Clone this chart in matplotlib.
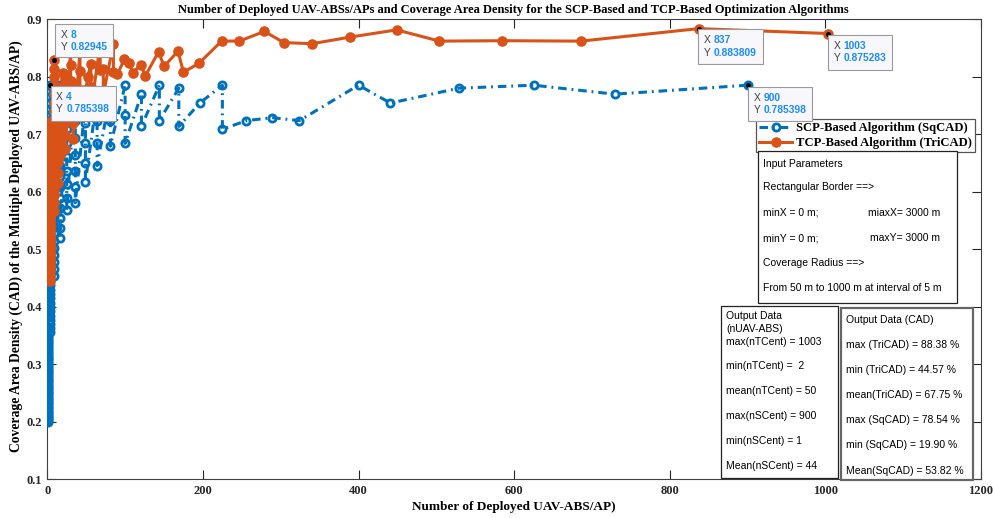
import matplotlib
matplotlib.use("Agg")
import matplotlib.pyplot as plt
from matplotlib.patches import Rectangle

# ---------------- data (radius 50 m .. 1000 m, step 5 m) ----------------
sq_n = [900, 729, 625, 529, 441, 400, 324, 289, 256, 225, 225, 196, 169, 169, 144, 144,
        121, 121, 100, 100, 100, 81, 81, 81,
        64, 64, 64, 64,
        49, 49, 49, 49, 49,
        36, 36, 36, 36, 36, 36, 36, 36,
        25, 25, 25, 25, 25, 25, 25, 25, 25, 25,
        16, 16, 16, 16, 16, 16, 16, 16, 16, 16, 16, 16, 16, 16, 16,
        9, 9, 9, 9, 9, 9, 9, 9, 9, 9, 9, 9, 9, 9, 9, 9, 9, 9, 9, 9, 9, 9, 9, 9, 9,
        4, 4, 4, 4, 4, 4, 4, 4, 4, 4, 4, 4, 4, 4, 4, 4, 4, 4, 4, 4, 4, 4, 4, 4, 4,
        4, 4, 4, 4, 4, 4, 4, 4, 4, 4, 4, 4, 4, 4, 4, 4, 4, 4, 4, 4, 4, 4, 4, 4, 4,
        1, 1, 1, 1, 1, 1, 1, 1, 1, 1, 1, 1, 1, 1, 1, 1, 1, 1, 1, 1, 1, 1, 1, 1, 1,
        1, 1, 1, 1, 1, 1, 1, 1, 1, 1, 1, 1, 1, 1, 1, 1, 1, 1, 1, 1, 1, 1, 1, 1, 1]

sq_cad = [0.7854, 0.7698, 0.7854, 0.7802, 0.7543, 0.7854, 0.7238, 0.7289, 0.7238, 0.7088,
          0.7854, 0.7543, 0.7138, 0.7802, 0.7238, 0.7854, 0.7138, 0.7698, 0.6842, 0.7339,
          0.7854, 0.6793, 0.7238, 0.7698, 0.6456, 0.6842, 0.7238, 0.7646, 0.6175, 0.6504,
          0.6842, 0.7188, 0.7543, 0.5809, 0.6082, 0.6362, 0.6648, 0.6940, 0.7238, 0.7543,
          0.7854,
          0.5675, 0.5899, 0.6128, 0.6362, 0.6600, 0.6842, 0.7088, 0.7339, 0.7594, 0.7854,
          0.5195, 0.5367, 0.5542, 0.5719, 0.5899, 0.6082, 0.6268, 0.6456, 0.6648, 0.6842,
          0.7039, 0.7238, 0.7441, 0.7646, 0.7854,
          0.4536, 0.4657, 0.4778, 0.4902, 0.5027, 0.5153, 0.5281, 0.5411, 0.5542, 0.5675,
          0.5809, 0.5945, 0.6082, 0.6221, 0.6362, 0.6504, 0.6648, 0.6793, 0.6940, 0.7088,
          0.7238, 0.7390, 0.7543, 0.7698, 0.7854,
          0.35608, 0.36317, 0.37032, 0.37755, 0.38484, 0.39221, 0.39964, 0.40715, 0.41472, 0.42237,
          0.43008, 0.43787, 0.44572, 0.45365, 0.46164, 0.46970, 0.47784, 0.48604, 0.49431, 0.50265,
          0.51106, 0.51955, 0.52810, 0.53672, 0.54542, 0.55418, 0.56301, 0.57191, 0.58088, 0.58992,
          0.59903, 0.60821, 0.61746, 0.62678, 0.63617, 0.64563, 0.65516, 0.66476, 0.67443, 0.68417,
          0.69398, 0.70385, 0.71380, 0.72382, 0.73391, 0.74407, 0.75429, 0.76459, 0.77495, 0.78540,
          0.19898, 0.20162, 0.20428, 0.20696, 0.20966, 0.21237, 0.21510, 0.21785, 0.22062, 0.22340,
          0.22620, 0.22902, 0.23186, 0.23471, 0.23758, 0.24047, 0.24338, 0.24630, 0.24924, 0.25220,
          0.25518, 0.25817, 0.26118, 0.26421, 0.26726, 0.27032, 0.27340, 0.27650, 0.27961, 0.28274,
          0.28589, 0.28906, 0.29225, 0.29545, 0.29867, 0.30191, 0.30516, 0.30843, 0.31172, 0.31503,
          0.31836, 0.32170, 0.32506, 0.32844, 0.33183, 0.33524, 0.33867, 0.34212, 0.34558, 0.34907]

tri_n = [1003, 837, 686, 585, 504, 449, 389, 340, 304, 279,
         247, 224, 195, 175, 168, 150, 143, 126, 120, 110,
         105, 99, 90, 85, 85, 72, 72, 68, 68, 56,
         56, 56, 52, 46, 46, 42, 42, 42, 42, 33,
         33, 33, 33, 30, 30, 30, 30, 30, 23, 23,
         23, 23, 23, 23, 20, 20, 20, 20, 20, 16,
         16,
         14, 14, 14, 14, 14, 14, 14, 14, 14, 14,
         12, 12, 12, 12,
         9, 9, 9, 9, 9, 9, 9, 9,
         8, 8, 8, 8, 8, 8, 8, 8, 8, 8, 8, 8, 8, 8, 8, 8, 8,
         6, 6, 6,
         4, 4, 4, 4, 4, 4, 4, 4, 4, 4, 4, 4, 4, 4, 4, 4, 4, 4, 4, 4, 4,
         3, 3, 3, 3, 3, 3, 3, 3, 3, 3, 3, 3, 3, 3, 3, 3, 3, 3, 3, 3, 3, 3, 3, 3, 3, 3, 3, 3, 3, 3, 3, 3, 3,
         2, 2, 2, 2, 2, 2, 2, 2, 2, 2, 2, 2, 2, 2, 2, 2, 2, 2, 2, 2, 2, 2, 2, 2, 2, 2, 2, 2, 2, 2, 2, 2, 2, 2]

tri_cad = [0.87528, 0.88381, 0.86205, 0.86276, 0.86205, 0.88161, 0.86903, 0.85748, 0.85954, 0.87894,
           0.86219, 0.86205, 0.82362, 0.80787, 0.84446, 0.81812, 0.84359, 0.80158, 0.82100, 0.80730,
           0.82467, 0.83024, 0.80425, 0.80778, 0.85748, 0.76969, 0.81430, 0.81238, 0.85689, 0.74330,
           0.78191, 0.82149, 0.80048, 0.74224, 0.77716, 0.74220, 0.77555, 0.80964, 0.84446, 0.69144,
           0.71995, 0.74904, 0.77870, 0.73539, 0.76341, 0.79195, 0.82100, 0.85059, 0.67520, 0.69868,
           0.72257, 0.74685, 0.77154, 0.79663, 0.71489, 0.73740, 0.76027, 0.78348, 0.80704, 0.66477,
           0.68417,
           0.61587, 0.63335, 0.65106, 0.66902, 0.68722, 0.70567, 0.72436, 0.74330, 0.76248, 0.78191,
           0.68707, 0.70414, 0.72142, 0.73890,
           0.56745, 0.58088, 0.59447, 0.60821, 0.62211, 0.63617, 0.65039, 0.66476,
           0.60382, 0.61687, 0.63006, 0.64340, 0.65687, 0.67049, 0.68424, 0.69813, 0.71217, 0.72634,
           0.74065, 0.75510, 0.76969, 0.78442, 0.79929, 0.81430, 0.82945,
           0.63356, 0.64513, 0.65680,
           0.44572, 0.45365, 0.46164, 0.46970, 0.47784, 0.48604, 0.49431, 0.50265, 0.51106, 0.51955,
           0.52810, 0.53672, 0.54542, 0.55418, 0.56301, 0.57191, 0.58088, 0.58992, 0.59903, 0.60821,
           0.61746,
           0.47009, 0.47713, 0.48423, 0.49137, 0.49857, 0.50582, 0.51313, 0.52048, 0.52789, 0.53535,
           0.54287, 0.55043, 0.55805, 0.56572, 0.57344, 0.58122, 0.58905, 0.59693, 0.60486, 0.61285,
           0.62088, 0.62897, 0.63712, 0.64531, 0.65356, 0.66185, 0.67021, 0.67861, 0.68707, 0.69558,
           0.70414, 0.71275, 0.72142,
           0.48676, 0.49260, 0.49848, 0.50440, 0.51035, 0.51634, 0.52236, 0.52841, 0.53451, 0.54063,
           0.54680, 0.55299, 0.55922, 0.56549, 0.57179, 0.57812, 0.58449, 0.59090, 0.59734, 0.60381,
           0.61032, 0.61687, 0.62345, 0.63006, 0.63671, 0.64340, 0.65012, 0.65687, 0.66366, 0.67049,
           0.67735, 0.68424, 0.69117, 0.69813]

series_labels = ["SCP-Based Algorithm (SqCAD)", "TCP-Based Algorithm (TriCAD)"]
x_ticks = [0, 200, 400, 600, 800, 1000, 1200]
y_ticks = [0.1, 0.2, 0.3, 0.4, 0.5, 0.6, 0.7, 0.8, 0.9]

# data tips: (x, y, series)
tips = [(8, 0.82945, "tri"), (4, 0.785398, "sq"), (837, 0.883809, "tri"),
        (1003, 0.875283, "tri"), (900, 0.785398, "sq")]
tip_text = ["8", "4", "837", "1003", "900"]
tip_yval = ["0.82945", "0.785398", "0.883809", "0.875283", "0.785398"]

input_lines = ["Input Parameters", "Rectangular Border ==>", "minX = 0 m;", "minY = 0 m;",
               "Coverage Radius ==>", "From 50 m to 1000 m at interval of 5 m"]
input_right = ["miaxX= 3000 m", "maxY= 3000 m"]
out_n_lines = ["Output Data", "(nUAV-ABS)", "max(nTCent) = 1003", "min(nTCent) =  2",
               "mean(nTCent) = 50", "max(nSCent) = 900", "min(nSCent) = 1", "Mean(nSCent) = 44"]
out_cad_lines = ["Output Data (CAD)", "max (TriCAD) = 88.38 %", "min (TriCAD) = 44.57 %",
                 "mean(TriCAD) = 67.75 %", "max (SqCAD) = 78.54 %", "min (SqCAD) = 19.90 %",
                 "Mean(SqCAD) = 53.82 %"]

# ---------------- figure ----------------
W, H = 993, 518
fig = plt.figure(figsize=(W / 100, H / 100), dpi=100)
SERIF = ["Liberation Serif", "DejaVu Serif"]
SANS = ["Liberation Sans", "DejaVu Sans"]

def fx(x):
    return x / W

def fy(y):
    return 1 - y / H

ax_l, ax_r, ax_t, ax_b = 47.3, 981.0, 19.3, 479.3
ax = fig.add_axes([fx(ax_l), fy(ax_b), (ax_r - ax_l) / W, (ax_b - ax_t) / H])

blue = (0.0, 0.447, 0.741)
orange = (0.85, 0.325, 0.098)

ax.plot(sq_n, sq_cad, color=blue, lw=2.2, linestyle=(0, (2.8, 1.6, 0.6, 1.6)),
        marker="o", ms=5.2, mfc="none", mec=blue, mew=2.0, label=series_labels[0], zorder=3)
ax.plot(tri_n, tri_cad, color=orange, lw=2.2, linestyle="-",
        marker="o", ms=6.6, mfc=orange, mec=orange, mew=1.0, label=series_labels[1], zorder=4)

ax.set_xlim(0, 1200)
ax.set_ylim(0.1, 0.9)
ax.set_xticks(x_ticks)
ax.set_yticks(y_ticks)
ax.set_xticklabels([str(t) for t in x_ticks], fontfamily=SERIF, fontweight="bold", fontsize=9)
ax.set_yticklabels([f"{t:.1f}" for t in y_ticks], fontfamily=SERIF, fontweight="bold", fontsize=9)
ax.tick_params(direction="in", top=True, right=True, length=6.5, width=0.8, colors="#262626", pad=4)
for s in ax.spines.values():
    s.set_color("#404040")
    s.set_linewidth(0.8)

fig.text(fx(513), fy(10), "Number of Deployed UAV-ABSs/APs and Coverage Area Density for the SCP-Based and TCP-Based Optimization Algorithms",
         ha="center", va="center", fontfamily=SERIF, fontweight="bold", fontsize=9)
fig.text(fx(514), fy(507), "Number of Deployed UAV-ABS/AP)", ha="center", va="center",
         fontfamily=SERIF, fontweight="bold", fontsize=9.5)
fig.text(fx(16), fy(246), "Coverage Area Density (CAD) of the Multiple Deployed UAV-ABS/AP)",
         ha="center", va="center", rotation=90, fontfamily=SERIF, fontweight="bold", fontsize=9.8)

leg = ax.legend(loc="upper right", bbox_to_anchor=(fx(975), fy(119.3)), bbox_transform=fig.transFigure,
                prop={"family": SERIF, "weight": "bold", "size": 9.1}, frameon=True, fancybox=False,
                framealpha=1, edgecolor="#555555", borderpad=0.25, labelspacing=0.2,
                handlelength=2.6, handletextpad=0.3, borderaxespad=0)
leg.get_frame().set_linewidth(0.9)

# data tip markers
for (tx, ty, s) in tips:
    ax.plot([tx], [ty], "o", ms=2.6, color="black", zorder=6)

def box(x0, y0, x1, y1, ec="#222222", lw=0.9, fc="white", z=5):
    r = Rectangle((fx(x0), fy(y1)), (x1 - x0) / W, (y1 - y0) / H, transform=fig.transFigure,
                  facecolor=fc, edgecolor=ec, linewidth=lw, zorder=z)
    fig.add_artist(r)

tip_boxes = [(55, 24, 113, 57), (50.7, 86, 116, 120.7), (698.3, 29.3, 763.3, 64.3),
             (828.3, 35, 892.3, 70), (748.3, 86.7, 812.3, 121)]
for (bx0, by0, bx1, by1), xv, yv in zip(tip_boxes, tip_text, tip_yval):
    box(bx0, by0, bx1, by1, ec="#9a9a9a", lw=0.8, fc="#f8f8fc", z=7)
    tx = bx0 + 5.5
    ly1 = by0 + 11
    ly2 = by0 + 23.5
    fig.text(fx(tx), fy(ly1), "X", ha="left", va="center", fontfamily=SANS, fontsize=7.4, color="#404040", zorder=8)
    fig.text(fx(tx), fy(ly2), "Y", ha="left", va="center", fontfamily=SANS, fontsize=7.4, color="#404040", zorder=8)
    fig.text(fx(tx + 10), fy(ly1), xv, ha="left", va="center", fontfamily=SANS, fontsize=7.4,
             fontweight="bold", color="#1a8cff", zorder=8)
    fig.text(fx(tx + 10), fy(ly2), yv, ha="left", va="center", fontfamily=SANS, fontsize=7.4,
             fontweight="bold", color="#1a8cff", zorder=8)

FS = 7.5
# input parameter box
box(758, 151, 957, 302.7)
for t, yy in zip(input_lines, [164, 187.3, 212.7, 238.3, 263.3, 287.7]):
    fig.text(fx(762.7), fy(yy), t, ha="left", va="center", fontfamily=SANS, fontsize=FS, zorder=8)
fig.text(fx(868), fy(212.7), input_right[0], ha="left", va="center", fontfamily=SANS, fontsize=FS, zorder=8)
fig.text(fx(870), fy(238.3), input_right[1], ha="left", va="center", fontfamily=SANS, fontsize=FS, zorder=8)

# output n box
box(721, 306, 838.3, 477.7)
for t, yy in zip(out_n_lines, [316, 329.3, 341.7, 366, 390.7, 415.7, 440.7, 465.7]):
    fig.text(fx(726.2), fy(yy), t, ha="left", va="center", fontfamily=SANS, fontsize=FS, zorder=8)

# output CAD box
box(841, 308.3, 973.3, 480, ec="#666666", lw=1.6)
for t, yy in zip(out_cad_lines, [320, 345, 370, 395, 420, 445, 470.7]):
    fig.text(fx(846.2), fy(yy), t, ha="left", va="center", fontfamily=SANS, fontsize=FS, zorder=8)

fig.savefig("out.png", dpi=100)
